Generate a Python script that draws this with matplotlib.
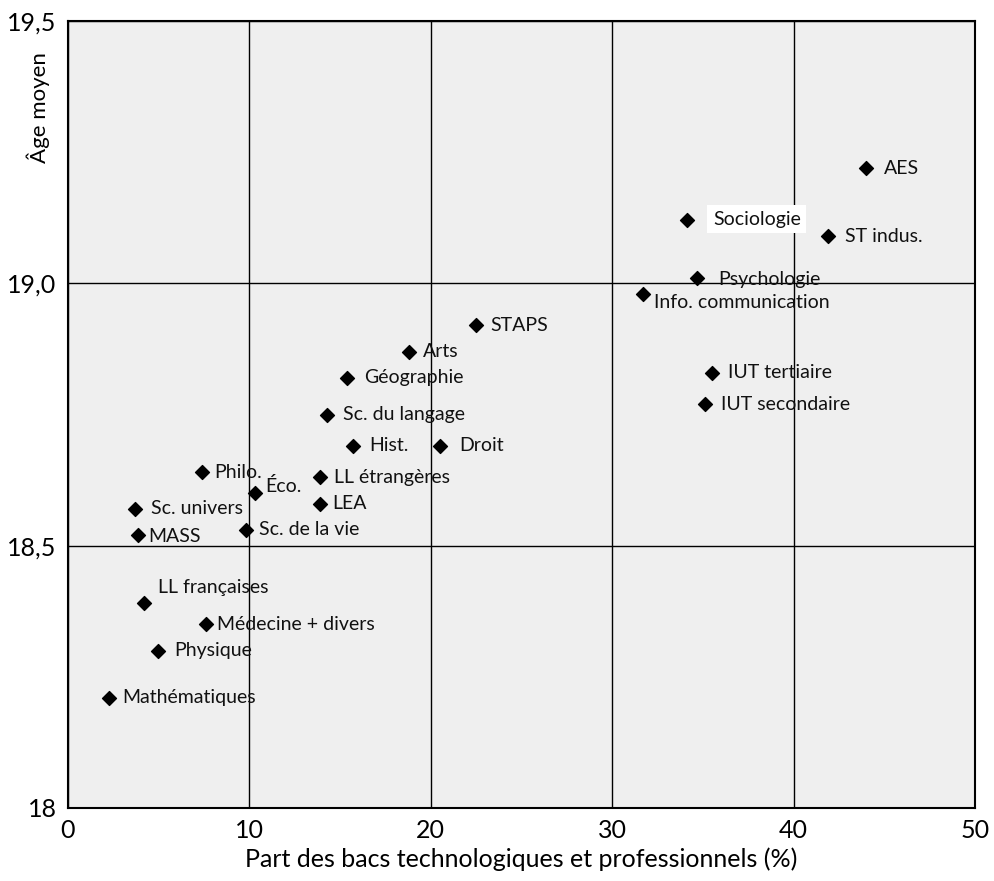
import matplotlib.pyplot as plt
from matplotlib.ticker import FuncFormatter

# Data
filieres = ['AES', 'Sociologie', 'ST indus.', 'Psychologie', 'Info. communication',
            'STAPS', 'Arts', 'Géographie', 'Sc. du langage', 'Hist.', 'Droit',
            'IUT tertiaire', 'IUT secondaire', 'Philo.', 'Éco.', 'LL étrangères',
            'LEA', 'Sc. univers', 'MASS', 'Sc. de la vie', 'LL françaises',
            'Médecine + divers', 'Physique', 'Mathématiques']
part_bacs = [44.0, 34.1, 41.9, 34.7, 31.7, 22.5, 18.8, 15.4, 14.3, 15.7, 20.5,
             35.5, 35.1, 7.4, 10.3, 13.9, 13.9, 3.7, 3.9, 9.8, 4.2, 7.6, 5.0, 2.3]
age_moyen = [19.22, 19.12, 19.09, 19.01, 18.98, 18.92, 18.87, 18.82, 18.75, 18.69,
             18.69, 18.83, 18.77, 18.64, 18.60, 18.63, 18.58, 18.57, 18.52, 18.53,
             18.39, 18.35, 18.30, 18.21]

# label offsets in points (dx, dy)
offsets = {
    'AES': (13, 0), 'Sociologie': (19, 1), 'ST indus.': (12, 0),
    'Psychologie': (15, -1), 'Info. communication': (8, -6.5),
    'STAPS': (10, 0), 'Arts': (10, 0), 'Géographie': (12, 0),
    'Sc. du langage': (11.5, 0), 'Hist.': (12, 0), 'Droit': (14, 0),
    'IUT tertiaire': (11.5, 0), 'IUT secondaire': (11.5, 0), 'Philo.': (9, 0),
    'Éco.': (8, 5.5), 'LL étrangères': (10, 0), 'LEA': (9, 0),
    'Sc. univers': (11.5, 0), 'MASS': (7, -1), 'Sc. de la vie': (10, 0),
    'LL françaises': (10, 11.5), 'Médecine + divers': (8.5, 0),
    'Physique': (11.5, 0), 'Mathématiques': (9, 0),
}

plt.rcParams['font.family'] = ['Lato', 'DejaVu Sans']

fig = plt.figure(figsize=(9.95, 8.81), dpi=100)
ax = fig.add_axes([0.068, 0.083, 0.912, 0.893])
ax.set_facecolor('#efefef')

ax.scatter(part_bacs, age_moyen, marker='D', s=50, color='black', zorder=3)

for name, x, y in zip(filieres, part_bacs, age_moyen):
    dx, dy = offsets[name]
    kw = {}
    if name == 'Sociologie':
        kw['bbox'] = dict(facecolor='white', edgecolor='none', pad=4)
    ax.annotate(name, (x, y), xytext=(dx, dy), textcoords='offset points',
                ha='left', va='center', fontsize=14, color='#111111', zorder=4, **kw)

ax.set_xlim(0, 50)
ax.set_ylim(18, 19.5)
ax.set_xticks([0, 10, 20, 30, 40, 50])
ax.set_yticks([18, 18.5, 19.0, 19.5])
ax.yaxis.set_major_formatter(FuncFormatter(
    lambda v, p: '18' if v == 18 else f'{v:.1f}'.replace('.', ',')))
ax.grid(True, color='black', linewidth=1)
ax.set_axisbelow(True)
ax.tick_params(length=0, labelsize=18, pad=8)
for s in ax.spines.values():
    s.set_linewidth(1.5)

ax.set_xlabel('Part des bacs technologiques et professionnels (%)', fontsize=18, labelpad=4)
ax.set_ylabel('Âge moyen', fontsize=16)
ax.yaxis.set_label_coords(-0.019, 0.89)

plt.savefig('out.png', dpi=100)
